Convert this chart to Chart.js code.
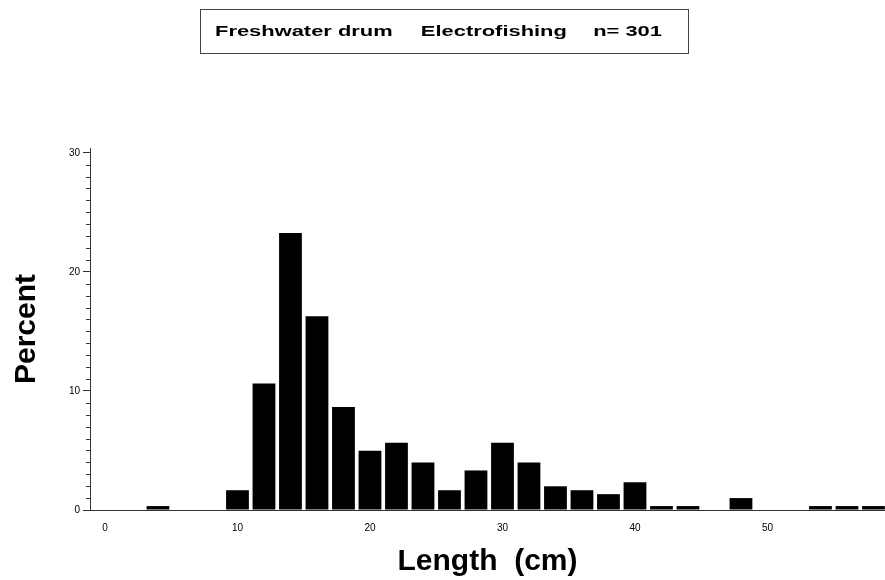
<!DOCTYPE html>
<html>
<head>
<meta charset="utf-8">
<script src="https://cdn.jsdelivr.net/npm/chart.js@4"></script>
<style>
  body { margin: 0; background: #fff; }
  #wrap { position: relative; width: 885px; height: 580px; }
  #title-box {
    position: absolute; left: 200px; top: 9px; width: 487px; height: 43px;
    border: 1px solid #444; background: #fff;
  }
  #title-text {
    position: absolute; left: 14px; top: 12px; width: 330px; height: 20px;
    font: bold 15px "Liberation Sans", Arial, sans-serif;
    white-space: pre; color: #000;
    transform: scaleX(1.46); transform-origin: 0 0;
  }
  #title-text span { position: absolute; top: 0; }
</style>
</head>
<body>
<div id="wrap">
  <canvas id="chart" width="885" height="580"></canvas>
  <div id="title-box"><div id="title-text"><span style="left:0">Freshwater drum</span><span style="left:141px">Electrofishing</span><span style="left:259px">n= 301</span></div></div>
</div>
<script>
// length class midpoints (cm) and percent of fish in each 2 cm class
const lengths = [4, 6, 8, 10, 12, 14, 16, 18, 20, 22, 24, 26, 28, 30, 32, 34, 36, 38, 40, 42, 44, 46, 48, 50, 52, 54, 56, 58];
const percents = [0.33, 0, 0, 1.66, 10.63, 23.26, 16.28, 8.64, 4.98, 5.65, 3.99, 1.66, 3.32, 5.65, 3.99, 1.99, 1.66, 1.33, 2.33, 0.33, 0.33, 0, 1.0, 0, 0, 0.33, 0.33, 0.33];
const xTicks = [0, 10, 20, 30, 40, 50];
const yTicks = [0, 10, 20, 30];

const axisColor = '#333';
const tickFont = { family: 'Liberation Sans, Arial, sans-serif', size: 10 };
const titleFont = { family: 'Liberation Sans, Arial, sans-serif', size: 30, weight: 'bold' };

// short minor ticks on the percent axis
const minorTicks = {
  id: 'minorTicks',
  afterDraw(chart) {
    const y = chart.scales.y;
    const c = chart.ctx;
    c.save();
    c.strokeStyle = axisColor;
    c.lineWidth = 1;
    y.ticks.forEach(t => {
      if (yTicks.includes(t.value)) return;
      const py = Math.round(y.getPixelForValue(t.value)) + 0.5;
      c.beginPath();
      c.moveTo(y.right - 4, py);
      c.lineTo(y.right, py);
      c.stroke();
    });
    c.restore();
  }
};

new Chart(document.getElementById('chart').getContext('2d'), {
  type: 'bar',
  data: {
    datasets: [{
      data: lengths.map((x, i) => ({ x: x, y: percents[i] })),
      backgroundColor: '#000',
      borderWidth: 0,
      categoryPercentage: 1,
      barPercentage: 0.86
    }]
  },
  options: {
    responsive: false,
    animation: false,
    devicePixelRatio: 1,
    layout: { padding: { top: 148, left: 0, right: 0, bottom: 0 } },
    plugins: { legend: { display: false }, tooltip: { enabled: false } },
    scales: {
      x: {
        type: 'linear',
        min: -1.13,
        max: 58.87,
        offset: false,
        afterBuildTicks: scale => { scale.ticks = xTicks.map(v => ({ value: v })); },
        afterFit: scale => { scale.height = 70; },
        grid: { display: true, drawOnChartArea: false, drawTicks: false, offset: false },
        border: { color: axisColor, width: 1 },
        ticks: { font: tickFont, color: '#000', padding: 12, maxRotation: 0 },
        title: { display: true, text: 'Length  (cm)', font: titleFont, color: '#000', padding: { top: 0, bottom: 0 } }
      },
      y: {
        min: 0,
        max: 30.4,
        afterFit: scale => { scale.width = 90; },
        grid: {
          drawOnChartArea: false,
          tickLength: 7,
          tickColor: ctx => yTicks.includes(ctx.tick.value) ? axisColor : 'rgba(0,0,0,0)'
        },
        border: { color: axisColor, width: 1 },
        ticks: {
          stepSize: 1,
          includeBounds: false,
          autoSkip: false,
          font: tickFont,
          color: '#000',
          padding: 3,
          callback: v => yTicks.includes(v) ? String(v) : ''
        },
        title: { display: true, text: 'Percent', font: titleFont, color: '#000', padding: { top: 9, bottom: 0 } }
      }
    }
  },
  plugins: [minorTicks]
});
</script>
</body>
</html>
